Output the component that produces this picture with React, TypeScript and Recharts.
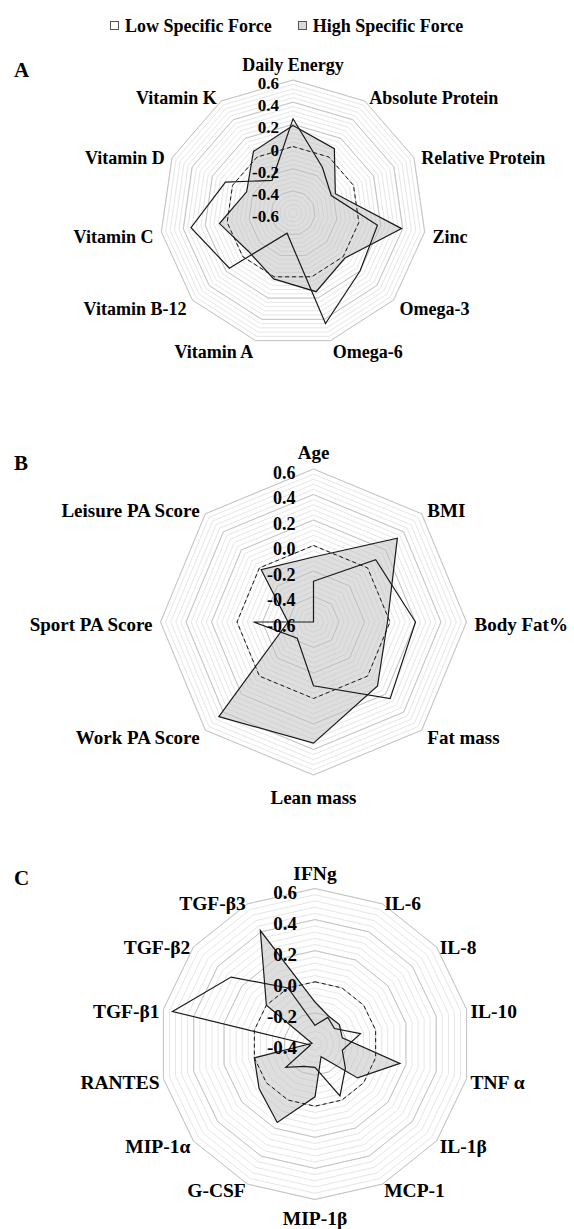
import React from "react";
import {
  RadarChart,
  Radar,
  PolarGrid,
  PolarAngleAxis,
  PolarRadiusAxis,
} from "recharts";

const FONT = '"Liberation Serif", "Times New Roman", Times, serif';

// Panel A - dietary intake
const nutrients = [
  "Daily Energy",
  "Absolute Protein",
  "Relative Protein",
  "Zinc",
  "Omega-3",
  "Omega-6",
  "Vitamin A",
  "Vitamin B-12",
  "Vitamin C",
  "Vitamin D",
  "Vitamin K",
];
const nutrientsLow = [0.25, -0.11, -0.22, 0.17, 0.2, 0.44, -0.41, 0.16, 0.33, 0.07, -0.25];
const nutrientsHigh = [0.19, 0.09, -0.18, 0.39, 0.02, 0.14, 0.02, -0.07, 0.07, -0.14, 0.06];
const ticksA = [-0.6, -0.4, -0.2, 0, 0.2, 0.4, 0.6];
const tickLabelsA = ["-0.6", "-0.4", "-0.2", "0", "0.2", "0.4", "0.6"];

// Panel B - body composition / physical activity
const bodyVars = [
  "Age",
  "BMI",
  "Body Fat%",
  "Fat mass",
  "Lean mass",
  "Work PA Score",
  "Sport PA Score",
  "Leisure PA Score",
];
const bodyLow = [-0.28, 0.09, 0.2, 0.25, -0.1, -0.42, -0.13, -0.6];
const bodyHigh = [-0.09, 0.33, -0.02, 0.11, 0.35, 0.45, -0.4, -0.02];
const ticksB = [-0.6, -0.4, -0.2, 0, 0.2, 0.4, 0.6];
const tickLabelsB = ["-0.6", "-0.4", "-0.2", "0.0", "0.2", "0.4", "0.6"];

// Panel C - cytokines
const cytokines = [
  "IFNg",
  "IL-6",
  "IL-8",
  "IL-10",
  "TNF α",
  "IL-1β",
  "MCP-1",
  "MIP-1β",
  "G-CSF",
  "MIP-1α",
  "RANTES",
  "TGF-β1",
  "TGF-β2",
  "TGF-β3",
];
const cytokinesLow = [-0.28, -0.21, -0.24, -0.1, -0.22, -0.15, -0.03, -0.25, -0.24, -0.16, -0.37, 0.54, 0.29, 0.0];
const cytokinesHigh = [-0.13, -0.2, -0.2, -0.22, 0.16, -0.05, -0.31, -0.06, 0.16, 0.06, 0.0, -0.38, 0.0, 0.41];
const ticksC = [-0.4, -0.2, 0, 0.2, 0.4, 0.6];
const tickLabelsC = ["-0.4", "-0.2", "0.0", "0.2", "0.4", "0.6"];

// light minor rings every 0.04 between the labelled ones
function minorTicks(min: number, max: number, step: number) {
  const out: number[] = [];
  for (let v = min; v <= max + 1e-9; v += step) out.push(Math.round(v * 1000) / 1000);
  return out;
}

function buildRows(cats: string[], low: number[], high: number[]) {
  return cats.map((axis, i) => ({ axis, low: low[i], high: high[i], zero: 0 }));
}

type PanelProps = {
  letter: string;
  letterTop: number;
  top: number;
  height: number;
  cx: number;
  cy: number;
  outerRadius: number;
  domain: [number, number];
  ticks: number[];
  tickLabels: string[];
  rows: any[];
  labelSize: number;
  tickSize: number;
  tickGap: number;
  angleGap: number;
  sideDy: number;
  topDy: number;
  bottomDy: number;
};

function Panel(p: PanelProps) {
  const minor = minorTicks(p.domain[0], p.domain[1], 0.04);

  const angleTick = (props: any) => {
    const { x, y, payload, textAnchor } = props;
    let dy = p.sideDy;
    if (textAnchor === "middle") dy = y < p.cy ? p.topDy : p.bottomDy;
    return (
      <text
        x={x}
        y={y + dy}
        textAnchor={textAnchor}
        dominantBaseline="central"
        fontFamily={FONT}
        fontWeight="bold"
        fontSize={p.labelSize}
        fill="#000"
      >
        {payload.value}
      </text>
    );
  };

  const radiusTick = (props: any) => {
    const { x, y, payload } = props;
    const i = p.ticks.findIndex((t) => Math.abs(t - payload.value) < 1e-6);
    return (
      <text
        x={x - p.tickGap}
        y={y + 3.5}
        textAnchor="end"
        dominantBaseline="central"
        fontFamily={FONT}
        fontWeight="bold"
        fontSize={p.tickSize}
        fill="#000"
      >
        {i >= 0 ? p.tickLabels[i] : ""}
      </text>
    );
  };

  return (
    <>
      <div
        style={{
          position: "absolute",
          left: 14,
          top: p.letterTop,
          fontFamily: FONT,
          fontWeight: "bold",
          fontSize: 21,
          lineHeight: "21px",
        }}
      >
        {p.letter}
      </div>
      <div style={{ position: "absolute", left: 0, top: p.top }}>
        <RadarChart
          width={574}
          height={p.height}
          data={p.rows}
          cx={p.cx}
          cy={p.cy}
          outerRadius={p.outerRadius}
          margin={{ top: 0, right: 0, bottom: 0, left: 0 }}
        >
          <PolarGrid
            radiusAxisId="minor"
            gridType="polygon"
            radialLines={false}
            stroke="#e6e6e6"
            strokeWidth={1}
          />
          <PolarGrid
            gridType="polygon"
            radialLines={false}
            stroke="#c4c4c4"
            strokeWidth={1}
          />
          <PolarAngleAxis
            dataKey="axis"
            tick={angleTick}
            tickSize={p.angleGap}
            axisLine={false}
            tickLine={false}
          />
          <PolarRadiusAxis
            radiusAxisId="minor"
            angle={90}
            type="number"
            domain={p.domain}
            ticks={minor}
            allowDecimals
            allowDataOverflow
            tick={false}
            axisLine={false}
          />
          <Radar
            dataKey="high"
            stroke="#1a1a1a"
            strokeWidth={1.2}
            fill="#bdbdbd"
            fillOpacity={0.5}
            isAnimationActive={false}
          />
          <Radar
            dataKey="zero"
            stroke="#1a1a1a"
            strokeWidth={1}
            strokeDasharray="4 3"
            fill="none"
            fillOpacity={0}
            isAnimationActive={false}
          />
          <Radar
            dataKey="low"
            stroke="#1a1a1a"
            strokeWidth={1.2}
            fill="none"
            fillOpacity={0}
            isAnimationActive={false}
          />
          <PolarRadiusAxis
            angle={90}
            type="number"
            domain={p.domain}
            ticks={p.ticks}
            allowDecimals
            allowDataOverflow
            tick={radiusTick}
            axisLine={false}
          />
        </RadarChart>
      </div>
    </>
  );
}

function LegendBox({ fill }: { fill: string }) {
  return (
    <span
      style={{
        display: "inline-block",
        width: 7,
        height: 7,
        border: "1px solid #555",
        background: fill,
        marginRight: 6,
        verticalAlign: "2px",
      }}
    />
  );
}

export default function App() {
  return (
    <div
      style={{
        position: "absolute",
        left: 0,
        top: 0,
        width: 574,
        height: 1229,
        background: "#fff",
        overflow: "hidden",
      }}
    >
      <div
        style={{
          position: "absolute",
          left: 110,
          top: 14,
          fontFamily: FONT,
          fontWeight: "bold",
          fontSize: 18,
          lineHeight: "24px",
          whiteSpace: "nowrap",
        }}
      >
        <LegendBox fill="#ffffff" />
        Low Specific Force
        <span style={{ display: "inline-block", width: 26 }} />
        <LegendBox fill="#d9d9d9" />
        High Specific Force
      </div>
      <Panel
        letter="A"
        letterTop={60}
        top={40}
        height={360}
        cx={293}
        cy={173}
        outerRadius={133}
        domain={[-0.6, 0.6]}
        ticks={ticksA}
        tickLabels={tickLabelsA}
        rows={buildRows(nutrients, nutrientsLow, nutrientsHigh)}
        labelSize={18}
        tickSize={17}
        tickGap={14}
        angleGap={8}
        sideDy={4}
        topDy={-7}
        bottomDy={8}
      />
      <Panel
        letter="B"
        letterTop={453}
        top={420}
        height={400}
        cx={313.5}
        cy={202}
        outerRadius={153}
        domain={[-0.6, 0.6]}
        ticks={ticksB}
        tickLabels={tickLabelsB}
        rows={buildRows(bodyVars, bodyLow, bodyHigh)}
        labelSize={19}
        tickSize={18}
        tickGap={18}
        angleGap={8}
        sideDy={2}
        topDy={-9}
        bottomDy={14}
      />
      <Panel
        letter="C"
        letterTop={868}
        top={840}
        height={389}
        cx={315}
        cy={204}
        outerRadius={155.5}
        domain={[-0.4, 0.6]}
        ticks={ticksC}
        tickLabels={tickLabelsC}
        rows={buildRows(cytokines, cytokinesLow, cytokinesHigh)}
        labelSize={19.5}
        tickSize={19}
        tickGap={18}
        angleGap={4}
        sideDy={3}
        topDy={-11.5}
        bottomDy={14.5}
      />
    </div>
  );
}
